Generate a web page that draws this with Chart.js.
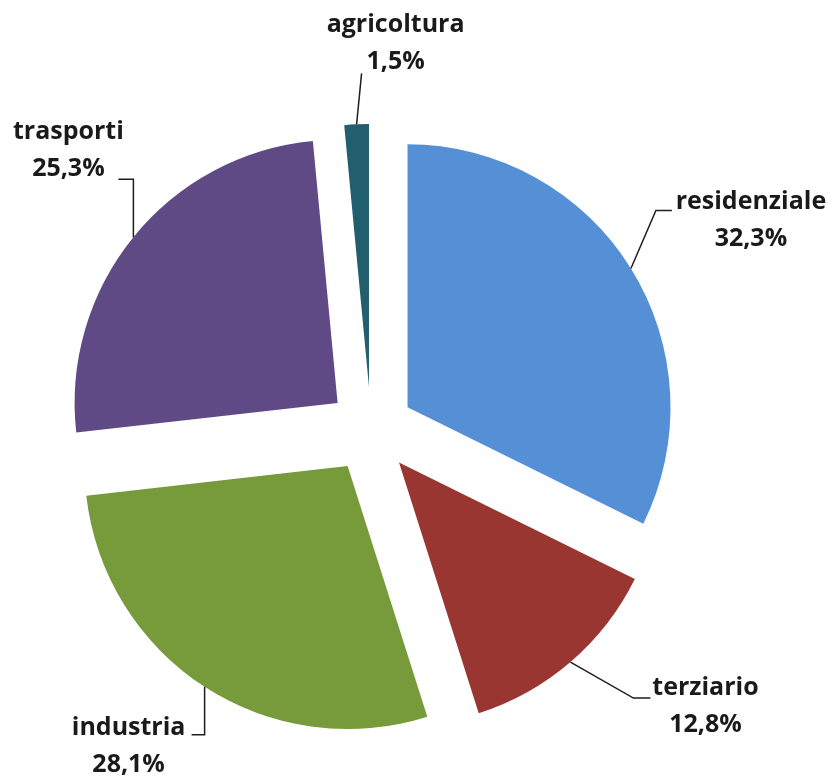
<!DOCTYPE html>
<html>
<head>
<meta charset="utf-8">
<script src="https://cdn.jsdelivr.net/npm/chart.js@4/dist/chart.umd.min.js"></script>
<style>
  html, body { margin: 0; padding: 0; background: #ffffff; }
  canvas { display: block; }
</style>
</head>
<body>
<canvas id="c" width="838" height="778"></canvas>
<script>
// ---- data ----
const categories = ['residenziale', 'terziario', 'industria', 'trasporti', 'agricoltura'];
const shares = [32.3, 12.8, 28.1, 25.3, 1.5];

// ---- styles ----
const sliceColors = ['#5590D6', '#9A3632', '#779A3A', '#604A85', '#215F6E'];
const PIE_RADIUS = 263;
const EXPLODE = 43; // pixel shift of each slice away from centre

// label layout relative to the leader anchor on the slice edge (mid-angle):
// elbow = bend of leader, stub = horizontal segment length, text = [block centre x, first baseline]
const labelLayout = [
  { elbow: [25, -58], stub: 16,  text: [120, -59] },
  { elbow: [63, 36],  stub: 17,  text: [135, 33] },
  { elbow: [0, 48],   stub: -13, text: [-76, 48] },
  { elbow: [0, -58],  stub: -15, text: [-65, -98] },
  { elbow: [5, -51],  stub: 0,   text: [39, -92] }
];

const fmt = v => v.toFixed(1).replace('.', ',') + '%';

// Exploded pie: move each slice's centre outward along its mid-angle
// (done on the library's own arc elements, keeping their full angle and radius).
const explode = {
  id: 'explode',
  afterDatasetsUpdate(chart) {
    const meta = chart.getDatasetMeta(0);
    meta.data.forEach(arc => {
      const mid = (arc.startAngle + arc.endAngle) / 2;
      arc.x += Math.cos(mid) * EXPLODE;
      arc.y += Math.sin(mid) * EXPLODE;
      arc.outerRadius = PIE_RADIUS;
    });
  }
};

const leaderLabels = {
  id: 'leaderLabels',
  afterDatasetsDraw(chart) {
    const ctx = chart.ctx;
    const meta = chart.getDatasetMeta(0);
    ctx.save();
    meta.data.forEach((arc, i) => {
      const mid = (arc.startAngle + arc.endAngle) / 2;
      const ax = arc.x + Math.cos(mid) * arc.outerRadius;
      const ay = arc.y + Math.sin(mid) * arc.outerRadius;
      const L = labelLayout[i];
      const ex = ax + L.elbow[0], ey = ay + L.elbow[1];
      ctx.strokeStyle = '#1e1e1e';
      ctx.lineWidth = 1.5;
      ctx.beginPath();
      ctx.moveTo(ax, ay);
      ctx.lineTo(ex, ey);
      if (L.stub) ctx.lineTo(ex + L.stub, ey);
      ctx.stroke();
      ctx.fillStyle = '#1a1a1a';
      ctx.font = "bold 25px 'Open Sans'";
      ctx.textAlign = 'center';
      ctx.textBaseline = 'alphabetic';
      const tx = ax + L.text[0], ty = ay + L.text[1];
      ctx.fillText(categories[i], tx, ty);
      ctx.fillText(fmt(shares[i]), tx, ty + 37);
    });
    ctx.restore();
  }
};

new Chart(document.getElementById('c'), {
  type: 'pie',
  data: {
    labels: categories,
    datasets: [{
      data: shares,
      backgroundColor: sliceColors,
      borderWidth: 0,
      offset: 0
    }]
  },
  options: {
    responsive: false,
    animation: false,
    radius: PIE_RADIUS,
    layout: { padding: { left: 0, right: 96, top: 82, bottom: 0 } },
    plugins: {
      legend: { display: false },
      tooltip: { enabled: false }
    },
    events: []
  },
  plugins: [explode, leaderLabels]
});
</script>
</body>
</html>
